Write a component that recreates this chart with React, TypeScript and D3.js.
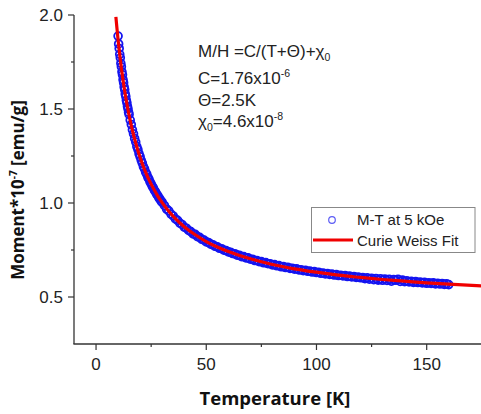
import React from "react";
import * as d3 from "d3";

const tempK = [
  10, 10.25, 10.5, 10.75, 11, 11.25, 11.5, 11.75, 12, 12.25, 12.5, 12.75, 13, 13.25, 13.5, 13.75, 14, 14.25, 14.5, 14.75, 15,
  15.5, 16, 16.5, 17, 17.5, 18, 18.5, 19, 19.5, 20, 20.5, 21, 21.5, 22, 22.5, 23, 23.5, 24, 24.5, 25, 25.5, 26, 26.5, 27, 27.5, 28, 28.5, 29, 29.5, 30,
  31, 32, 33, 34, 35, 36, 37, 38, 39, 40, 41, 42, 43, 44, 45, 46, 47, 48, 49, 50,
  51, 52, 53, 54, 55, 56, 57, 58, 59, 60, 61, 62, 63, 64, 65, 66, 67, 68, 69, 70,
  71, 72, 73, 74, 75, 76, 77, 78, 79, 80, 81, 82, 83, 84, 85, 86, 87, 88, 89, 90,
  91, 92, 93, 94, 95, 96, 97, 98, 99, 100, 101, 102, 103, 104, 105, 106, 107, 108, 109, 110,
  111, 112, 113, 114, 115, 116, 117, 118, 119, 120, 121, 122, 123, 124, 125, 126, 127, 128, 129, 130,
  131, 132, 133, 134, 135, 136, 137, 138, 139, 140, 141, 142, 143, 144, 145, 146, 147, 148, 149, 150,
  151, 152, 153, 154, 155, 156, 157, 158, 159, 160,
];
const moment = [
  1.888, 1.846, 1.822, 1.791, 1.772, 1.743, 1.725, 1.698, 1.682, 1.656, 1.64, 1.617, 1.603, 1.58, 1.567, 1.546, 1.533, 1.514, 1.501, 1.483, 1.471,
  1.441, 1.417, 1.389, 1.368, 1.343, 1.324, 1.3, 1.284, 1.262, 1.246, 1.227, 1.212, 1.193, 1.181, 1.164, 1.153, 1.137, 1.127, 1.112, 1.102, 1.089, 1.08, 1.067, 1.059, 1.047, 1.039, 1.028, 1.021, 1.01, 1.004,
  0.987, 0.968, 0.958, 0.941, 0.931, 0.915, 0.908, 0.893, 0.886, 0.872, 0.866, 0.854, 0.848, 0.836, 0.833, 0.821, 0.817, 0.807, 0.803, 0.793,
  0.79, 0.781, 0.778, 0.77, 0.767, 0.759, 0.757, 0.749, 0.747, 0.74, 0.738, 0.731, 0.73, 0.723, 0.722, 0.715, 0.715, 0.708, 0.708, 0.701,
  0.701, 0.694, 0.694, 0.688, 0.688, 0.682, 0.683, 0.677, 0.677, 0.671, 0.672, 0.666, 0.667, 0.661, 0.662, 0.657, 0.658, 0.652, 0.653, 0.648,
  0.65, 0.644, 0.645, 0.64, 0.642, 0.637, 0.638, 0.633, 0.635, 0.63, 0.631, 0.626, 0.628, 0.623, 0.625, 0.62, 0.622, 0.617, 0.619, 0.614,
  0.616, 0.612, 0.614, 0.609, 0.611, 0.607, 0.609, 0.604, 0.606, 0.602, 0.603, 0.598, 0.602, 0.595, 0.6, 0.592, 0.598, 0.59, 0.597, 0.589,
  0.596, 0.588, 0.594, 0.584, 0.593, 0.589, 0.594, 0.583, 0.59, 0.582, 0.586, 0.58, 0.583, 0.578, 0.582, 0.577, 0.58, 0.575, 0.578, 0.573,
  0.576, 0.572, 0.575, 0.57, 0.573, 0.569, 0.572, 0.567, 0.57, 0.566,
];

const fitT = [9, 9.5, 10, 10.5, 11, 11.5, 12, 13, 14, 15, 16, 17, 18, 20, 22, 24, 26, 28, 30, 33, 36, 40, 45, 50, 55, 60, 70, 80, 90, 100, 110, 120, 130, 140, 150, 160, 175];
const fitM = [1.99, 1.927, 1.868, 1.814, 1.764, 1.717, 1.674, 1.596, 1.527, 1.466, 1.411, 1.363, 1.319, 1.242, 1.178, 1.124, 1.078, 1.037, 1.002, 0.956, 0.917, 0.874, 0.831, 0.795, 0.766, 0.742, 0.703, 0.673, 0.65, 0.632, 0.616, 0.604, 0.593, 0.584, 0.575, 0.568, 0.559];

const xMajor = [0, 50, 100, 150];
const xMinor = [25, 75, 125];
const yMajor = [0.5, 1.0, 1.5, 2.0];
const yMinor = [0.75, 1.25, 1.75];

const legendLabels = ["M-T at 5 kOe", "Curie Weiss Fit"];

export default function App() {
  const W = 481;
  const H = 414;
  const x = d3.scaleLinear().domain([-10, 175]).range([74, 481.8]);
  const y = d3.scaleLinear().domain([0.25, 2.0]).range([344, 15]);
  const fitLine = d3
    .line<number>()
    .x((d, i) => x(fitT[i]))
    .y((d) => y(d))
    .curve(d3.curveMonotoneX);

  const axisColor = "#333";
  const tickFont = "Liberation Sans, Arial, sans-serif";

  return (
    <svg width={W} height={H} style={{ position: "absolute", left: 0, top: 0, background: "#fff" }}>
      <defs>
        <clipPath id="plotclip">
          <rect x={74} y={0} width={W - 74} height={344} />
        </clipPath>
      </defs>
      {/* data */}
      <g clipPath="url(#plotclip)">
        {tempK.map((t, i) => (
          <circle key={i} cx={x(t)} cy={y(moment[i])} r={3.9} fill="none" stroke="#1414f0" strokeWidth={1.8} />
        ))}
        <path d={fitLine(fitM) || ""} fill="none" stroke="#f00000" strokeWidth={3.2} />
      </g>

      {/* axes */}
      <line x1={74} x2={74} y1={y(2.0)} y2={344} stroke={axisColor} strokeWidth={1.3} />
      <line x1={73.4} x2={W} y1={344} y2={344} stroke={axisColor} strokeWidth={1.3} />
      {yMajor.map((v) => (
        <g key={"ym" + v}>
          <line x1={68} x2={74} y1={y(v)} y2={y(v)} stroke={axisColor} strokeWidth={1.2} />
          <text x={63} y={y(v) + 6} textAnchor="end" fontFamily={tickFont} fontSize={17} fill="#222">
            {v.toFixed(1)}
          </text>
        </g>
      ))}
      {yMinor.map((v) => (
        <line key={"yn" + v} x1={71} x2={74} y1={y(v)} y2={y(v)} stroke={axisColor} strokeWidth={1.2} />
      ))}
      {xMajor.map((v) => (
        <g key={"xm" + v}>
          <line x1={x(v)} x2={x(v)} y1={344} y2={350} stroke={axisColor} strokeWidth={1.2} />
          <text x={x(v)} y={370} textAnchor="middle" fontFamily={tickFont} fontSize={17} fill="#222">
            {v}
          </text>
        </g>
      ))}
      {xMinor.map((v) => (
        <line key={"xn" + v} x1={x(v)} x2={x(v)} y1={344} y2={347} stroke={axisColor} strokeWidth={1.2} />
      ))}

      {/* axis titles */}
      <text x={275} y={405} textAnchor="middle" fontFamily="Open Sans, sans-serif" fontWeight={700} fontSize={18.5} fill="#111">
        Temperature [K]
      </text>
      <text
        transform="translate(24,190) rotate(-90)"
        textAnchor="middle"
        fontFamily="Open Sans, sans-serif"
        fontWeight={700}
        fontSize={17}
        fill="#111"
      >
        Moment*10
        <tspan fontSize={10} dy={-7}>-7</tspan>
        <tspan dy={7}> [emu/g]</tspan>
      </text>

      {/* annotation */}
      <g fontFamily={tickFont} fontSize={17} fill="#222">
        <text x={198} y={57}>
          M/H =C/(T+Θ)+χ<tspan fontSize={10.5} dy={4}>0</tspan>
        </text>
        <text x={198} y={84}>
          C=1.76x10<tspan fontSize={10.5} dy={-7}>-6</tspan>
        </text>
        <text x={198} y={106}>Θ=2.5K</text>
        <text x={198} y={127}>
          χ<tspan fontSize={10.5} dy={4}>0</tspan>
          <tspan dy={-4}>=4.6x10</tspan>
          <tspan fontSize={10.5} dy={-7}>-8</tspan>
        </text>
      </g>

      {/* legend */}
      <rect x={311.5} y={207.5} width={163.5} height={45} fill="#fff" stroke="#888" strokeWidth={1} />
      <circle cx={332} cy={220} r={3.3} fill="none" stroke="#5c5cf5" strokeWidth={1.2} />
      <line x1={313} x2={353} y1={240} y2={240} stroke="#f00000" strokeWidth={3} />
      <g fontFamily={tickFont} fontSize={15} fill="#222">
        <text x={357} y={225}>{legendLabels[0]}</text>
        <text x={357} y={246}>{legendLabels[1]}</text>
      </g>
    </svg>
  );
}
